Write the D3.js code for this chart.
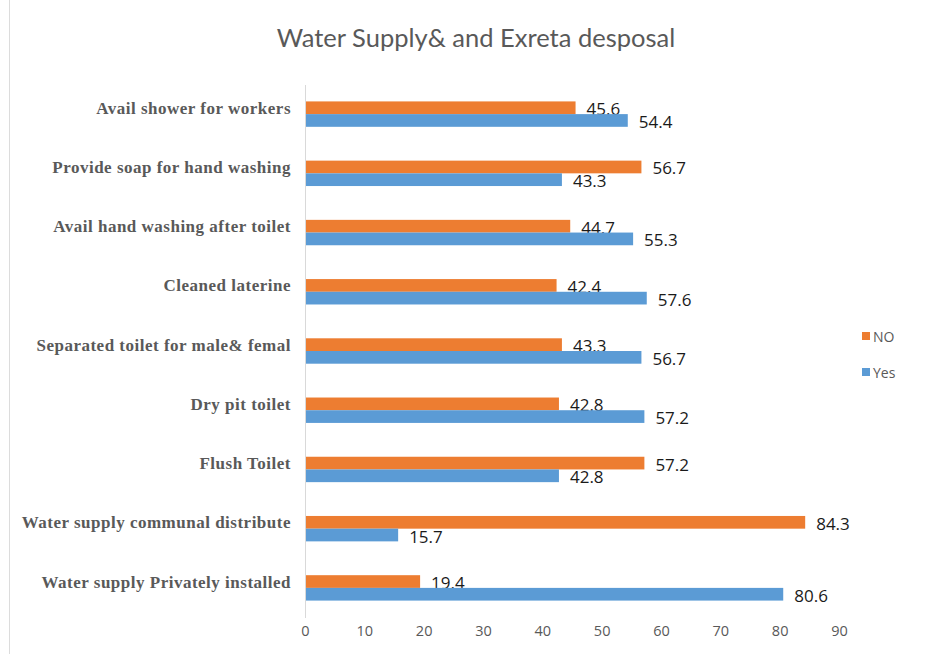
<!DOCTYPE html>
<html>
<head>
<meta charset="utf-8">
<script src="https://cdn.jsdelivr.net/npm/d3@7"></script>
<style>
  body { margin: 0; background: #fff; }
</style>
</head>
<body>
<svg id="chart" width="929" height="654"></svg>
<script>
// categories listed bottom to top, as in the source spreadsheet
var categories = [
  "Water supply Privately installed",
  "Water supply communal distribute",
  "Flush Toilet",
  "Dry pit toilet",
  "Separated toilet for male& femal",
  "Cleaned laterine",
  "Avail hand washing after toilet",
  "Provide soap for hand washing",
  "Avail shower for workers"
];
var yesValues = [80.6, 15.7, 42.8, 57.2, 56.7, 57.6, 55.3, 43.3, 54.4];
var noValues = [19.4, 84.3, 57.2, 42.8, 43.3, 42.4, 44.7, 56.7, 45.6];
var xTicks = [0, 10, 20, 30, 40, 50, 60, 70, 80, 90];
var seriesNames = ["NO", "Yes"];
var colors = { "NO": "#ED7D31", "Yes": "#5B9BD5" };

var svg = d3.select("#chart");

// faint frame line on the left
svg.append("line")
  .attr("x1", 9.5).attr("x2", 9.5)
  .attr("y1", 0).attr("y2", 654)
  .style("stroke", "#dcdcdc");

svg.append("text")
  .attr("x", 476).attr("y", 47)
  .attr("text-anchor", "middle")
  .style("font-family", "Lato, 'Open Sans', sans-serif")
  .style("font-size", "25.5px")
  .style("fill", "#595959")
  .text("Water Supply& and Exreta desposal");

var x = d3.scaleLinear().domain([0, 90]).range([305, 839]);

// top of chart is the last category
var y = d3.scaleBand()
  .domain(categories.slice().reverse())
  .range([84.5, 617.5]);

var inner = d3.scaleBand()
  .domain(seriesNames)
  .range([y.bandwidth() / 2 - 12.7, y.bandwidth() / 2 + 12.7]);

var rows = categories.map(function(c, i) {
  return { cat: c, NO: noValues[i], Yes: yesValues[i] };
});

var groups = svg.selectAll(".grp").data(rows)
  .enter().append("g")
  .attr("class", "grp")
  .attr("transform", function(d) { return "translate(0," + y(d.cat) + ")"; });

groups.each(function(d) {
  var g = d3.select(this);
  seriesNames.forEach(function(s) {
    g.append("rect")
      .attr("x", x(0))
      .attr("y", inner(s))
      .attr("width", x(d[s]) - x(0))
      .attr("height", inner.bandwidth())
      .style("fill", colors[s]);
    g.append("text")
      .attr("x", x(d[s]) + 11)
      .attr("y", inner(s) + inner.bandwidth() / 2 + 7.5)
      .style("font-family", "'Open Sans', sans-serif")
      .style("font-size", "17px")
      .style("fill", "#1a1a1a")
      .text(d3.format(".1f")(d[s]));
  });
});

// vertical category axis
var yAxis = svg.append("g")
  .attr("transform", "translate(" + x(0) + ",0)")
  .call(d3.axisLeft(y).tickSize(0).tickPadding(14));
yAxis.select(".domain").style("stroke", "#d9d9d9");
yAxis.selectAll("text")
  .attr("dy", "-0.02em")
  .style("font-family", "'Liberation Serif', 'Times New Roman', serif")
  .style("font-weight", "bold")
  .style("font-size", "17px")
  .style("letter-spacing", "0.5px")
  .style("fill", "#595959");

var xAxis = svg.append("g")
  .attr("transform", "translate(0,618)")
  .call(d3.axisBottom(x).tickValues(xTicks).tickSize(0).tickPadding(8));
xAxis.select(".domain").remove();
xAxis.selectAll("text")
  .style("font-family", "'Open Sans', sans-serif")
  .style("font-size", "14.5px")
  .style("fill", "#595959");

// legend
var legend = svg.selectAll(".leg").data(seriesNames)
  .enter().append("g")
  .attr("class", "leg")
  .attr("transform", function(d, i) { return "translate(862," + (336 + i * 36) + ")"; });
legend.append("rect")
  .attr("x", 0).attr("y", -4)
  .attr("width", 8).attr("height", 8)
  .style("fill", function(d) { return colors[d]; });
legend.append("text")
  .attr("x", 11).attr("y", 5.5)
  .style("font-family", "'Open Sans', sans-serif")
  .style("font-size", "14px")
  .style("fill", "#595959")
  .text(function(d) { return d; });
</script>
</body>
</html>
